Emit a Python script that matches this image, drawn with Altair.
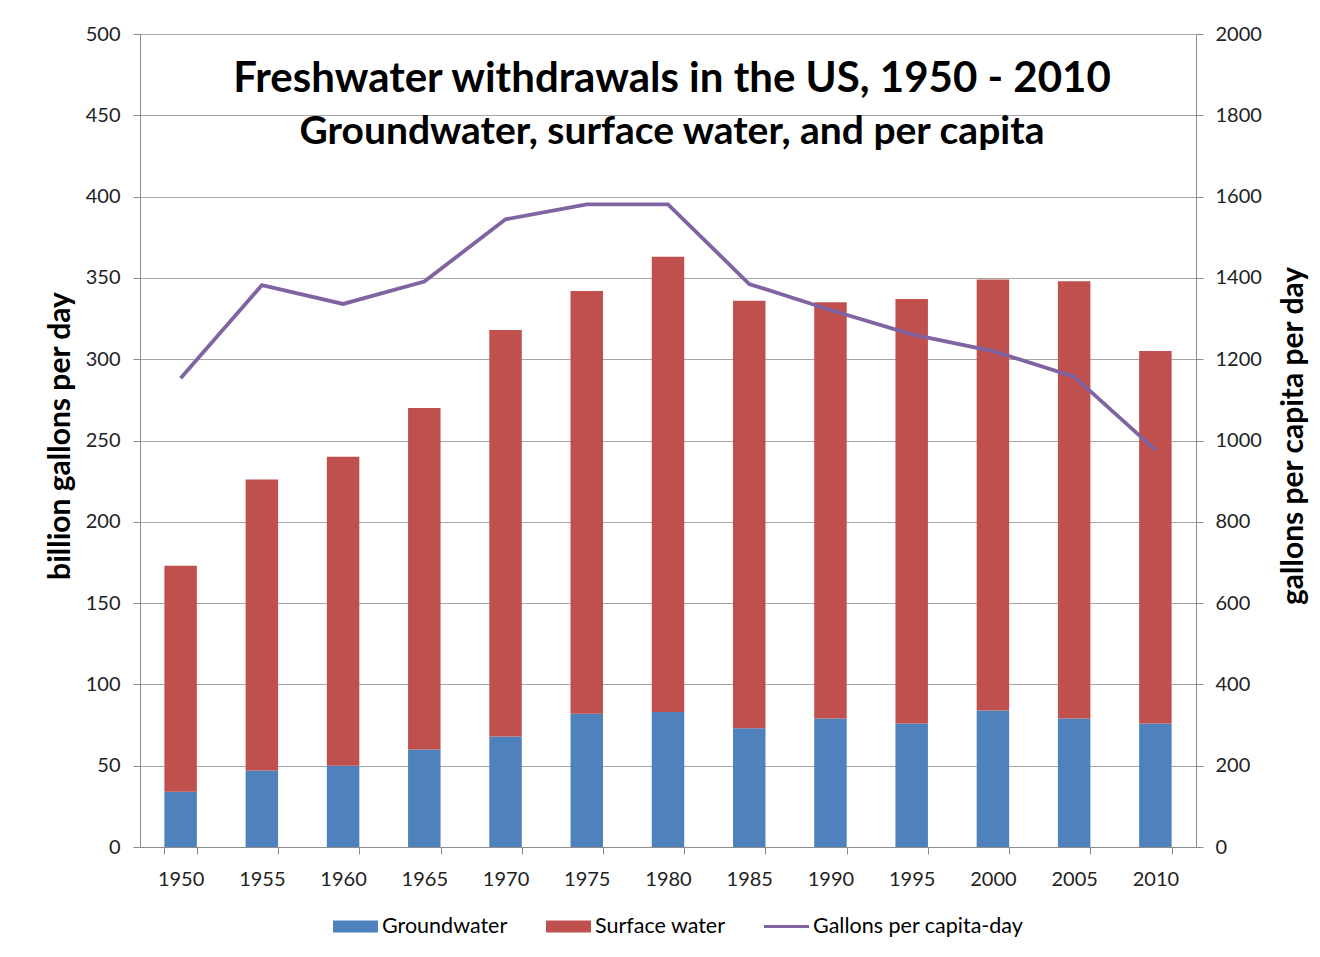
import altair as alt
import pandas as pd

years = ["1950", "1955", "1960", "1965", "1970", "1975", "1980",
         "1985", "1990", "1995", "2000", "2005", "2010"]
groundwater = [34, 47, 50, 60, 68, 82, 83, 73, 79, 76, 84, 79, 76]
surface = [139, 179, 190, 210, 250, 260, 280, 263, 256, 261, 265, 269, 229]
per_capita = [1153, 1382, 1336, 1391, 1544, 1581, 1581, 1385, 1321, 1261, 1220, 1157, 977]

series_names = ["Groundwater", "Surface water", "Gallons per capita-day"]
series_colors = ["#4f81bd", "#c0504d", "#8064a2"]

title_text = "Freshwater withdrawals in the US, 1950 - 2010"
subtitle_text = "Groundwater, surface water, and per capita"
left_title = "billion gallons per day"
right_title = "gallons per capita per day"

bars_df = pd.DataFrame({
    "year": years + years,
    "series": [series_names[0]] * len(years) + [series_names[1]] * len(years),
    "value": groundwater + surface,
    "order": [0] * len(years) + [1] * len(years),
})
line_df = pd.DataFrame({
    "year": years,
    "series": [series_names[2]] * len(years),
    "value": per_capita,
})

FONT = "Lato"
GRID = "#a6a6a6"
DOMAIN = "#8c8c8c"
PLOT_W = 1056
PLOT_H = 813

legend = alt.Legend(
    title=None,
    orient="none",
    legendX=193,
    legendY=870,
    direction="horizontal",
    symbolType=alt.ExprRef(
        "datum.value == 'Gallons per capita-day' ? 'M-1,-0.07H1V0.07H-1Z' : 'M-1,-0.27H1V0.27H-1Z'"
    ),
    symbolSize=2025,
    symbolStrokeWidth=0,
    labelFont=FONT,
    labelFontSize=21.5,
    labelColor="#000000",
    labelOffset=4,
    labelLimit=400,
    columnPadding=38,
)

color = alt.Color(
    "series:N",
    scale=alt.Scale(domain=series_names, range=series_colors),
    legend=legend,
)

x = alt.X(
    "year:N",
    sort=years,
    scale=alt.Scale(paddingInner=0.6, paddingOuter=0.3),
    axis=alt.Axis(
        title=None,
        labelAngle=0,
        tickBand="extent",
        labelFont=FONT,
        labelFontSize=20,
        labelColor="#222222",
        labelPadding=15,
        tickSize=7,
        tickColor=DOMAIN,
        domainColor=DOMAIN,
        grid=False,
    ),
)

bars = alt.Chart(bars_df).mark_bar().encode(
    x=x,
    y=alt.Y(
        "value:Q",
        stack="zero",
        scale=alt.Scale(domain=[0, 500], nice=False),
        axis=alt.Axis(
            orient="left",
            title=left_title,
            values=list(range(0, 501, 50)),
            format="d",
            labelFont=FONT,
            labelFontSize=20,
            labelColor="#222222",
            labelPadding=13,
            tickSize=7,
            tickColor=DOMAIN,
            domainColor=DOMAIN,
            gridColor=GRID,
            titleFont=FONT,
            titleFontSize=30,
            titleFontWeight="bold",
            titleColor="#000000",
            titleX=-80,
            titleY=PLOT_H / 2 - 5,
            titleAngle=270,
            titleAlign="center",
            titleBaseline="middle",
        ),
    ),
    color=color,
    order=alt.Order("order:Q"),
)

line = alt.Chart(line_df).mark_line(strokeWidth=3.8).encode(
    x=x,
    y=alt.Y(
        "value:Q",
        scale=alt.Scale(domain=[0, 2000], nice=False),
        axis=alt.Axis(
            orient="right",
            title=right_title,
            values=list(range(0, 2001, 200)),
            format="d",
            labelFont=FONT,
            labelFontSize=20,
            labelColor="#222222",
            labelPadding=12,
            tickSize=7,
            tickColor=DOMAIN,
            domainColor=DOMAIN,
            grid=False,
            titleFont=FONT,
            titleFontSize=30,
            titleFontWeight="bold",
            titleColor="#000000",
            titleX=97,
            titleY=PLOT_H / 2 - 5,
            titleAngle=270,
            titleAlign="center",
            titleBaseline="middle",
        ),
    ),
    color=color,
)

title_df = pd.DataFrame({"t": [title_text]})
subtitle_df = pd.DataFrame({"t": [subtitle_text]})

title = alt.Chart(title_df).mark_text(
    font=FONT, fontSize=42, fontWeight="bold", align="center",
    baseline="alphabetic", color="#000000",
).encode(text="t:N", x=alt.value(532), y=alt.value(58))

subtitle = alt.Chart(subtitle_df).mark_text(
    font=FONT, fontSize=39, fontWeight="bold", align="center",
    baseline="alphabetic", color="#000000",
).encode(text="t:N", x=alt.value(532), y=alt.value(110))

chart = alt.layer(bars, line, title, subtitle).resolve_scale(
    y="independent"
).properties(
    width=PLOT_W,
    height=PLOT_H,
    autosize=alt.AutoSizeParams(type="none"),
    padding={"left": 132, "top": 26, "right": 116, "bottom": 100},
).configure_view(stroke=None).configure(background="white")

chart.save("out.html", embed_options={"renderer": "svg", "actions": False})
